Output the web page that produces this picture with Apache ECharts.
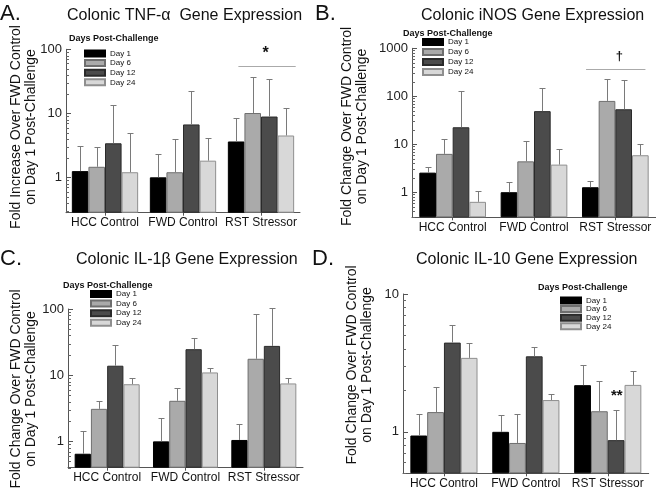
<!DOCTYPE html>
<html><head><meta charset="utf-8">
<script src="https://cdn.jsdelivr.net/npm/echarts@6/dist/echarts.min.js"></script>
<style>html,body{margin:0;padding:0;background:#fff}#c{width:656px;height:490px}</style>
</head><body><div id="c"></div>
<script>
// ---------------- DATA ----------------
const categories = ['HCC Control', 'FWD Control', 'RST Stressor'];
const days = ['Day 1', 'Day 6', 'Day 12', 'Day 24'];
const legendTitle = 'Days Post-Challenge';

// rows = days (Day 1, 6, 12, 24); columns = categories
const tnfMean  = [[1.25, 1.00, 3.63], [1.46, 1.20, 10.1], [3.4, 6.7, 8.9], [1.2, 1.82, 4.5]];
const tnfErr   = [[3.1, 2.35, 8.45], [2.95, 4.04, 37], [13.6, 22.6, 34], [4.86, 4.18, 12]];
const inosMean = [[2.56, 1.00, 1.27], [6.3, 4.4, 80], [22.6, 49, 53.6], [0.63, 3.76, 5.9]];
const inosErr  = [[3.3, 1.62, 1.72], [12.7, 11.7, 226], [131, 147, 222], [1.06, 7.9, 10]];
const il1Mean  = [[0.65, 1.00, 1.05], [3.1, 4.1, 17.7], [13.9, 24.7, 27.7], [7.3, 11, 7.5]];
const il1Err   = [[1.42, 2.25, 1.83], [4.1, 6.5, 83], [28.5, 37, 105], [9.0, 13, 9.0]];
const il10Mean = [[0.94, 1.00, 2.18], [1.39, 0.83, 1.41], [4.44, 3.53, 0.87], [3.44, 1.70, 2.19]];
const il10Err  = [[1.34, 1.32, 3.05], [2.1, 1.34, 2.35], [5.94, 4.11, 1.45], [4.44, 1.89, 2.78]];

const panelLetters = ['A.', 'B.', 'C.', 'D.'];
const panelTitles = ['Colonic TNF-\u03b1  Gene Expression', 'Colonic iNOS Gene Expression',
                     'Colonic IL-1\u03b2 Gene Expression', 'Colonic IL-10 Gene Expression'];
const yNames = ['Fold Increase Over FWD Control\non Day 1 Post-Challenge',
                'Fold Change Over FWD Control\non Day 1 Post-Challenge',
                'Fold Change Over FWD Control\non Day 1 Post-Challenge',
                'Fold Change Over FWD Control\non Day 1 Post-Challenge'];
const yMin = [0.28, 0.3, 0.4, 0.5];
const yMax = [100, 1000, 100, 10];

// significance annotations (RST Stressor group)
const sigCategory = [2, 2, null, 2];
const sigLabel = ['*', '\u2020', null, '**'];
const sigLineValue = [55.5, 370, null, null];
const sigTextValue = [87, 690, null, 1.82];

// ---------------- LAYOUT / STYLE ----------------
const FONT = '"Liberation Sans", Arial, Helvetica, sans-serif';
const dayColors = ['#000000', '#aaaaaa', '#4b4b4b', '#d8d8d8'];
const dayBorders = ['#000000', '#6e6e6e', '#2a2a2a', '#8f8f8f'];
const layout = [
  {grid: {left: 66, top: 49.3, width: 234, height: 163.4}, gap: 0.15,
   letter: [0, 13.5], title: [67, 16], yname: [23.5, 127],
   legTitle: [69, 39], legLeft: 84, legTop: 49.5, legGap: 1.6,
   sigLine: [-0.29, 0.445], sigText: 0.06, sigFont: 16},
  {grid: {left: 412, top: 48.3, width: 244, height: 169}, gap: 0.18,
   letter: [315, 13.5], title: [421, 15.5], yname: [355, 126.5],
   legTitle: [403, 33.3], legLeft: 422, legTop: 38, legGap: 2,
   sigLine: [-0.36, 0.37], sigText: 0.05, sigFont: 13},
  {grid: {left: 68, top: 309, width: 235, height: 158.7}, gap: 0.17,
   letter: [0, 259], title: [76, 260], yname: [24, 389],
   legTitle: [63, 285.7], legLeft: 90, legTop: 290, legGap: 1.6},
  {grid: {left: 403, top: 294, width: 245.7, height: 179.3}, gap: 0.18,
   letter: [312, 259], title: [416, 260], yname: [360, 365],
   legTitle: [538, 288], legLeft: 560, legTop: 296.5, legGap: 0.6,
   sigText: 0.11, sigFont: 15}
];

const means = [tnfMean, inosMean, il1Mean, il10Mean];
const errs = [tnfErr, inosErr, il1Err, il10Err];

function minorValues(min, max) {
  const out = [];
  for (let e = Math.floor(Math.log10(min)); e < Math.ceil(Math.log10(max)); e++) {
    for (let k = 2; k <= 9; k++) {
      const v = k * Math.pow(10, e);
      if (v >= min - 1e-9 && v <= max + 1e-9) out.push(+v.toPrecision(6));
    }
  }
  return out;
}

const grids = [], xAxes = [], yAxes = [], series = [], legends = [], graphics = [];

layout.forEach((L, p) => {
  grids.push(Object.assign({containLabel: false}, L.grid));
  xAxes.push({
    type: 'category', gridIndex: p, data: categories, boundaryGap: true,
    axisLine: {lineStyle: {color: '#555', width: 1}},
    axisTick: {show: true, alignWithLabel: true, length: 3, lineStyle: {color: '#555'}},
    axisLabel: {fontSize: 12, fontFamily: FONT, color: '#111', margin: 4, interval: 0, hideOverlap: false},
    splitLine: {show: false}
  });
  yAxes.push({
    type: 'log', logBase: 10, gridIndex: p, min: yMin[p], max: yMax[p], startValue: yMin[p],
    axisLine: {show: true, lineStyle: {color: '#555', width: 1}},
    axisTick: {show: true, inside: true, length: 5, lineStyle: {color: '#555'}},
    axisLabel: {
      fontSize: 13, fontFamily: FONT, color: '#222', margin: 4,
      formatter: v => {
        const l = Math.log10(v);
        return Math.abs(l - Math.round(l)) < 1e-6 ? String(Math.round(v)) : '';
      }
    },
    splitLine: {show: false}, minorTick: {show: false}
  });

  days.forEach((d, di) => {
    series.push({
      type: 'bar', name: d, xAxisIndex: p, yAxisIndex: p,
      data: means[p][di], barGap: '0%', barCategoryGap: (L.gap * 100) + '%',
      itemStyle: {color: dayColors[di], borderColor: dayBorders[di], borderWidth: 1},
      silent: true, z: 2
    });
  });

  // error bars (upper only)
  const edata = [];
  means[p].forEach((row, di) => row.forEach((m, ci) => edata.push([ci, m, errs[p][di][ci], di])));
  const gapFrac = L.gap;
  series.push({
    type: 'custom', xAxisIndex: p, yAxisIndex: p, silent: true, clip: false, z: 3,
    encode: {x: 0, y: 1}, data: edata,
    renderItem: function (params, api) {
      const c = api.value(0), di = api.value(3);
      const base = api.coord([c, api.value(1)]);
      const top = api.coord([c, api.value(2)]);
      const band = api.size([1, 0], [c, api.value(1)])[0];
      const bw = band * (1 - gapFrac) / 4;
      const x = Math.round(base[0] + (di - 1.5) * bw) + 0.5;
      const yt = Math.round(top[1]) + 0.5;
      return {type: 'group', children: [
        {type: 'line', shape: {x1: x, y1: base[1], x2: x, y2: yt}, style: {stroke: '#7a7a7a', lineWidth: 1}},
        {type: 'line', shape: {x1: x - 3, y1: yt, x2: x + 3, y2: yt}, style: {stroke: '#7a7a7a', lineWidth: 1}}
      ]};
    }
  });

  // minor ticks on log axis
  series.push({
    type: 'custom', xAxisIndex: p, yAxisIndex: p, silent: true, clip: false, z: 4,
    encode: {x: 0, y: 1}, data: minorValues(yMin[p], yMax[p]).map(v => [0, v]),
    renderItem: function (params, api) {
      const y = Math.round(api.coord([0, api.value(1)])[1]) + 0.5;
      const x0 = params.coordSys.x;
      return {type: 'line', shape: {x1: x0, y1: y, x2: x0 + 3, y2: y}, style: {stroke: '#666', lineWidth: 1}};
    }
  });

  // significance annotation
  if (sigLabel[p]) {
    const item = [sigCategory[p], sigLineValue[p] == null ? sigTextValue[p] : sigLineValue[p], sigTextValue[p]];
    const Lc = L;
    const hasLine = sigLineValue[p] != null;
    const label = sigLabel[p];
    series.push({
      type: 'custom', xAxisIndex: p, yAxisIndex: p, silent: true, clip: false, z: 5,
      encode: {x: 0, y: 1}, data: [item],
      renderItem: function (params, api) {
        const c = api.value(0);
        const pl = api.coord([c, api.value(1)]);
        const pt = api.coord([c, api.value(2)]);
        const band = api.size([1, 0], [c, api.value(1)])[0];
        const children = [];
        if (hasLine) {
          const yl = Math.round(pl[1]) + 0.5;
          children.push({type: 'line', shape: {x1: pl[0] + Lc.sigLine[0] * band, y1: yl, x2: pl[0] + Lc.sigLine[1] * band, y2: yl},
            style: {stroke: '#aaaaaa', lineWidth: 1.2}});
        }
        children.push({type: 'text', x: pt[0] + Lc.sigText * band, y: pt[1],
          style: {text: label, font: 'bold ' + Lc.sigFont + 'px ' + FONT, fill: '#111',
                  align: 'center', verticalAlign: 'middle', textAlign: 'center', textVerticalAlign: 'middle'}});
        return {type: 'group', children: children};
      }
    });
  }

  legends.push({
    data: days, orient: 'vertical', left: L.legLeft, top: L.legTop, itemWidth: 20, itemHeight: 6,
    itemGap: L.legGap, padding: 0, selectedMode: false, icon: 'rect',
    textStyle: {fontSize: 8, fontFamily: FONT, color: '#111', lineHeight: 8}
  });

  graphics.push(
    {type: 'text', x: L.letter[0], y: L.letter[1],
     style: {text: panelLetters[p], font: '22px ' + FONT, fill: '#111', align: 'left', verticalAlign: 'middle', textAlign: 'left', textVerticalAlign: 'middle'}},
    {type: 'text', x: L.title[0], y: L.title[1],
     style: {text: panelTitles[p], font: '16px ' + FONT, fill: '#111', align: 'left', verticalAlign: 'middle', textAlign: 'left', textVerticalAlign: 'middle'}},
    {type: 'text', x: L.yname[0], y: L.yname[1], rotation: Math.PI / 2,
     style: {text: yNames[p], font: '14px ' + FONT, fill: '#111', lineHeight: 15, align: 'center', verticalAlign: 'middle', textAlign: 'center', textVerticalAlign: 'middle'}},
    {type: 'text', x: L.legTitle[0], y: L.legTitle[1],
     style: {text: legendTitle, font: 'bold 9px ' + FONT, fill: '#111', align: 'left', verticalAlign: 'middle', textAlign: 'left', textVerticalAlign: 'middle'}}
  );
});

const chart = echarts.init(document.getElementById('c'), null, {renderer: 'canvas'});
chart.setOption({
  animation: false,
  backgroundColor: '#ffffff',
  grid: grids, xAxis: xAxes, yAxis: yAxes, series: series, legend: legends, graphic: graphics
});
</script>
</body></html>
